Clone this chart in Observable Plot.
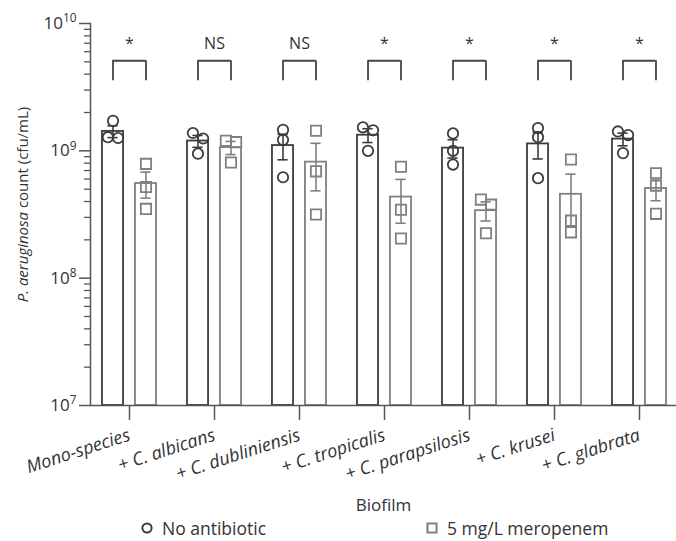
<!DOCTYPE html>
<html>
<head>
<meta charset="utf-8">
<script src="https://cdn.jsdelivr.net/npm/d3@7"></script>
<script src="https://cdn.jsdelivr.net/npm/@observablehq/plot@0.6"></script>
<style>
  body { margin: 0; background: white; }
  #legend { position: relative; width: 676px; height: 28px; font-family: "Open Sans", sans-serif; font-size: 17.5px; color: #333; }
  .item { position: absolute; top: 3px; display: flex; align-items: center; gap: 9px; }
</style>
</head>
<body>
<div id="chart"></div>
<div id="legend">
  <div class="item" style="left:141px"><svg width="12" height="12"><circle cx="6" cy="6" r="4.6" fill="none" stroke="#3c3c3c" stroke-width="2"/></svg><span>No antibiotic</span></div>
  <div class="item" style="left:426px"><svg width="12" height="12"><rect x="1.5" y="1.5" width="9" height="9" fill="none" stroke="#808080" stroke-width="2"/></svg><span>5 mg/L meropenem</span></div>
</div>
<script>
const groups = ["Mono-species", "+ C. albicans", "+ C. dubliniensis", "+ C. tropicalis", "+ C. parapsilosis", "+ C. krusei", "+ C. glabrata"];
const conditions = ["No antibiotic", "5 mg/L meropenem"];
const noAntibiotic = [
  [1.72e9, 1.28e9, 1.26e9],
  [1.38e9, 1.25e9, 0.95e9],
  [1.46e9, 1.22e9, 0.62e9],
  [1.53e9, 1.45e9, 1.00e9],
  [1.37e9, 1.00e9, 0.78e9],
  [1.51e9, 1.28e9, 0.61e9],
  [1.42e9, 1.33e9, 0.96e9]
];
const meropenem = [
  [7.9e8, 5.2e8, 3.5e8],
  [1.20e9, 1.17e9, 8.1e8],
  [1.44e9, 6.9e8, 3.16e8],
  [7.5e8, 3.45e8, 2.05e8],
  [4.14e8, 3.78e8, 2.25e8],
  [8.55e8, 2.83e8, 2.29e8],
  [6.67e8, 5.33e8, 3.2e8]
];
const significance = ["*", "NS", "NS", "*", "*", "*", "*"];
const yTicks = [1e7, 1e8, 1e9, 1e10];

const colors = ["#3c3c3c", "#808080"];
const half = 0.194;   // bar centre offset within group
const barHalf = 0.124; // bar half width
const capHalf = 0.06;
const bracketTop = 5.1e9, bracketLeg = 3.55e9;

const rows = [], points = [];
groups.forEach((g, i) => {
  [noAntibiotic[i], meropenem[i]].forEach((vals, c) => {
    const center = i + (c === 0 ? -half : half);
    const mean = d3.mean(vals);
    const sem = d3.deviation(vals) / Math.sqrt(vals.length);
    rows.push({i, c, center, mean, lo: mean - sem, hi: mean + sem});
    const logs = vals.map(Math.log10);
    vals.forEach((v, j) => {
      const close = logs.map((l, k) => k !== j && Math.abs(l - logs[j]) < 0.07 ? k : -1).filter(k => k >= 0);
      let off = 0;
      if (close.length === 1) off = j < close[0] ? -capHalf : capHalf;
      else if (close.length === 2) off = (j - 1) * 0.08;
      points.push({c, x: center + off, v});
    });
  });
});
const minorTicks = [];
for (let e = 7; e < 10; e++) for (let k = 2; k <= 9; k++) minorTicks.push(k * 10 ** e);

const svg = Plot.plot({
  width: 676, height: 513,
  marginTop: 23, marginBottom: 108, marginLeft: 90, marginRight: 0,
  style: {fontFamily: "Open Sans, sans-serif", fontSize: "14px", color: "#333", background: "white", overflow: "visible"},
  x: {type: "linear", domain: [-0.5, groups.length - 0.5], range: [86.5, 681.5]},
  y: {type: "log", domain: [1e7, 1e10]},
  marks: [
    Plot.rectY(rows, {x1: d => d.center - barHalf, x2: d => d.center + barHalf, y1: 1e7, y2: "mean",
      fill: "none", stroke: d => colors[d.c], strokeWidth: 1.8}),
    Plot.ruleX(rows, {x: "center", y1: "lo", y2: "hi", stroke: d => colors[d.c], strokeWidth: 1.6}),
    Plot.ruleY(rows, {y: "hi", x1: d => d.center - capHalf, x2: d => d.center + capHalf, stroke: d => colors[d.c], strokeWidth: 1.6}),
    Plot.ruleY(rows, {y: "lo", x1: d => d.center - capHalf, x2: d => d.center + capHalf, stroke: d => colors[d.c], strokeWidth: 1.6}),
    Plot.dot(points.filter(p => p.c === 0), {x: "x", y: "v", r: 5.2, symbol: "circle", fill: "none", stroke: colors[0], strokeWidth: 1.8}),
    Plot.dot(points.filter(p => p.c === 1), {x: "x", y: "v", r: 5.8, symbol: "square", fill: "none", stroke: colors[1], strokeWidth: 1.8}),
    // significance brackets
    Plot.ruleY(significance, {y: bracketTop, x1: (d, i) => i - half, x2: (d, i) => i + half, stroke: "#444", strokeWidth: 1.8}),
    Plot.ruleX(significance, {x: (d, i) => i - half, y1: bracketLeg, y2: bracketTop, stroke: "#444", strokeWidth: 1.8}),
    Plot.ruleX(significance, {x: (d, i) => i + half, y1: bracketLeg, y2: bracketTop, stroke: "#444", strokeWidth: 1.8}),
    Plot.text(significance, {x: (d, i) => i, y: bracketTop, text: d => d, dy: -17, fontSize: 16, fill: "#333"}),
    // axes
    Plot.frame({anchor: "left", stroke: "#555", strokeWidth: 1.5}),
    Plot.ruleY([1e7], {stroke: "#555", strokeWidth: 1.5}),
    Plot.axisY({ticks: minorTicks, tickSize: 6, tickFormat: () => "", stroke: "#555", strokeWidth: 1.3, label: null}),
    Plot.axisY({ticks: yTicks, tickSize: 11, tickPadding: 3, tickFormat: d => "10^" + Math.round(Math.log10(d)),
      stroke: "#555", strokeWidth: 1.5, fontSize: 17, label: null}),
    Plot.axisX({ticks: d3.range(groups.length), tickFormat: i => groups[i], tickSize: 15, tickPadding: 14, tickRotate: -18,
      fontStyle: "italic", fontSize: 18, stroke: "#555", strokeWidth: 1.5, label: null}),
    Plot.text(["P. aeruginosa count (cfu/mL)"], {frameAnchor: "left", textAnchor: "middle", rotate: -90, dx: -67, dy: -10, fontSize: 15, fill: "#333"}),
    Plot.text(["Biofilm"], {frameAnchor: "bottom", lineAnchor: "middle", dy: 100, fontSize: 17, fill: "#333"})
  ]
});
document.getElementById("chart").appendChild(svg);

// superscript exponents and partial italics
d3.select(svg).selectAll("text").each(function() {
  const t = this.textContent;
  const m = /^10\^(\d+)$/.exec(t);
  if (m) {
    const sel = d3.select(this);
    sel.text("10");
    sel.append("tspan").attr("dy", "-0.55em").attr("font-size", "70%").text(m[1]);
  } else if (t.includes("aeruginosa")) {
    const sel = d3.select(this);
    sel.text("");
    sel.append("tspan").attr("font-style", "italic").text("P. aeruginosa");
    sel.append("tspan").text(" count (cfu/mL)");
  }
});
</script>
</body>
</html>
